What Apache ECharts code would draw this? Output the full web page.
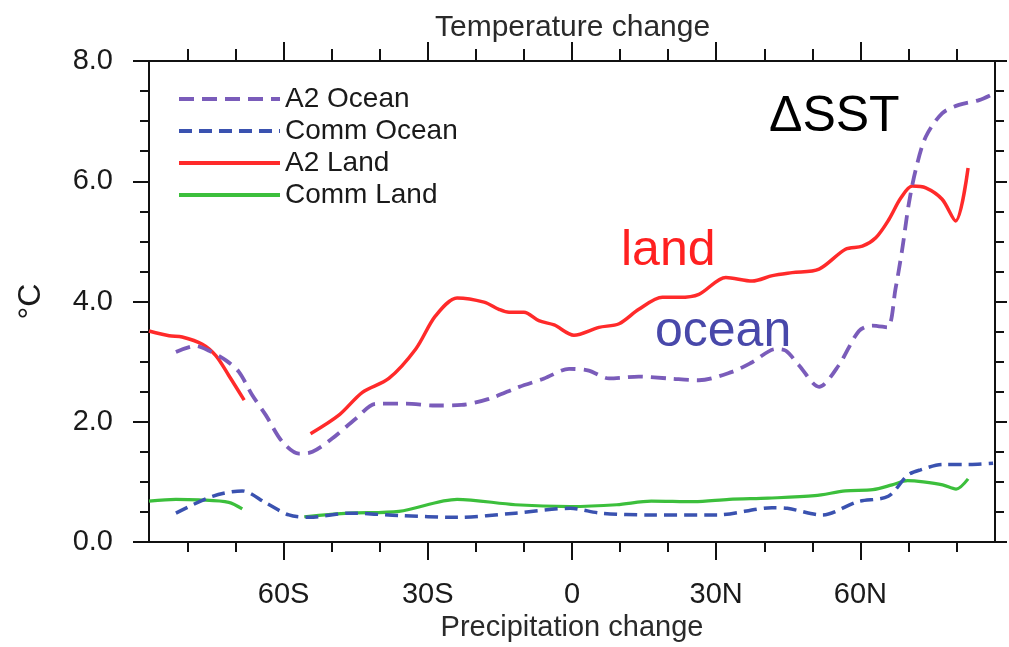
<!DOCTYPE html>
<html>
<head>
<meta charset="utf-8">
<script src="https://cdn.jsdelivr.net/npm/echarts@6/dist/echarts.min.js"></script>
<style>
html,body{margin:0;padding:0;background:#fff;}
#chart{width:1009px;height:647px;}
</style>
</head>
<body>
<div id="chart"></div>
<script>
// ---- Data (latitude in degrees, negative = south; values in °C) ----
const latA2Ocean = [-82.4, -78.3, -75.5, -72.0, -69.3, -66.5, -63.7, -60.3, -56.8, -54.0, -49.9, -45.0, -40.8, -34.6, -28.4, -23.0, -17.3, -11.0, -5.8, -0.6, 3.5, 7.7, 13.9, 20.2, 26.4, 33.3, 37.5, 42.4, 44.5, 47.2, 51.4, 55.5, 59.7, 62.5, 65.6, 67.3, 68.7, 70.1, 71.5, 73.6, 77.0, 80.5, 84.7, 87.8];
const valA2Ocean = [3.16, 3.26, 3.18, 3.02, 2.83, 2.44, 2.11, 1.67, 1.47, 1.50, 1.72, 2.05, 2.30, 2.30, 2.27, 2.28, 2.38, 2.58, 2.72, 2.88, 2.85, 2.72, 2.75, 2.72, 2.69, 2.83, 2.99, 3.21, 3.18, 2.94, 2.58, 2.94, 3.51, 3.60, 3.57, 4.21, 4.87, 5.64, 6.19, 6.74, 7.13, 7.27, 7.35, 7.46];

const latCommOcean = [-82.4, -74.8, -68.6, -63.7, -58.9, -54.7, -46.4, -36.0, -23.9, -11.8, -0.4, 6.0, 16.5, 30.2, 41.6, 44.8, 52.1, 59.4, 65.8, 69.8, 72.5, 77.1, 82.8, 87.6];
const valCommOcean = [0.48, 0.76, 0.85, 0.65, 0.45, 0.41, 0.48, 0.44, 0.41, 0.48, 0.56, 0.48, 0.45, 0.45, 0.57, 0.56, 0.45, 0.67, 0.76, 1.11, 1.20, 1.29, 1.29, 1.31];

const latA2Land = [-88.0, -83.8, -81.1, -76.9, -74.1, -71.4, -68.2, -61.0, -54.4, -48.5, -43.6, -38.1, -32.5, -28.4, -23.9, -18.3, -15.2, -13.1, -10.0, -6.9, -3.7, 0.4, 5.6, 9.8, 13.9, 18.8, 22.3, 26.4, 32.0, 37.5, 41.7, 45.8, 51.4, 56.9, 60.4, 63.2, 65.9, 68.4, 70.8, 73.6, 77.0, 79.8, 82.4];
const valA2Land = [3.51, 3.43, 3.41, 3.29, 3.10, 2.77, 2.36, null, 1.80, 2.11, 2.49, 2.72, 3.21, 3.76, 4.06, 3.99, 3.87, 3.82, 3.82, 3.68, 3.61, 3.44, 3.57, 3.63, 3.87, 4.07, 4.07, 4.12, 4.40, 4.34, 4.43, 4.48, 4.54, 4.87, 4.92, 5.06, 5.36, 5.72, 5.92, 5.89, 5.70, 5.34, 6.22];

const latCommLand = [-88.0, -82.4, -77.6, -71.4, -68.6, -62.0, -55.7, -46.4, -36.0, -23.9, -11.8, -0.4, 9.3, 16.5, 25.4, 32.7, 40.8, 50.5, 56.9, 62.6, 66.6, 69.8, 73.1, 77.1, 79.9, 82.4];
const valCommLand = [0.68, 0.71, 0.70, 0.66, 0.55, null, 0.42, 0.48, 0.51, 0.71, 0.62, 0.59, 0.62, 0.68, 0.67, 0.71, 0.73, 0.77, 0.85, 0.87, 0.95, 1.02, 1.00, 0.95, 0.88, 1.05];

const seriesNames = ['A2 Ocean', 'Comm Ocean', 'A2 Land', 'Comm Land'];
const xMajorTicks = [-60, -30, 0, 30, 60];
const xTickLabels = ['60S', '30S', '0', '30N', '60N'];
const xMinorTicks = [-80, -70, -50, -40, -20, -10, 10, 20, 40, 50, 70, 80];

// ---- Build ----
function pairs(lats, vals) { return lats.map((x, i) => [x, vals[i]]); }
const FONT = 'Liberation Sans, Arial, Helvetica, sans-serif';
const AX = '#111';

function xAxisDef(position, ticks, len, showLine, extra) {
  return Object.assign({
    type: 'value', position: position, min: -88, max: 88,
    axisLine: { show: showLine, onZero: false, lineStyle: { color: AX, width: 2 } },
    axisTick: { show: true, customValues: ticks, length: len, lineStyle: { color: AX, width: 2 } },
    axisLabel: { show: false },
    splitLine: { show: false }
  }, extra || {});
}

const chart = echarts.init(document.getElementById('chart'), null, { renderer: 'canvas' });
const option = {
  animation: false,
  backgroundColor: '#ffffff',
  title: {
    text: 'Temperature change', left: 435, top: 13, padding: 0,
    textStyle: { fontFamily: FONT, fontSize: 30, fontWeight: 'normal', color: '#2a2a2a' }
  },
  legend: {
    data: seriesNames, orient: 'vertical', left: 177, top: 85,
    itemWidth: 101, itemHeight: 14, itemGap: 4, padding: 0,
    itemStyle: { opacity: 0, color: 'rgba(0,0,0,0)', borderWidth: 0 },
    lineStyle: { width: 4 },
    textStyle: { fontFamily: FONT, fontSize: 28, color: '#1a1a1a', lineHeight: 28 }
  },
  grid: { left: 149, right: 14, top: 61, bottom: 103, containLabel: false },
  xAxis: [
    xAxisDef('bottom', xMajorTicks, 18, true, {
      axisLabel: {
        show: true, customValues: xMajorTicks, margin: 38,
        fontFamily: FONT, fontSize: 29, color: '#1a1a1a',
        formatter: v => xTickLabels[xMajorTicks.indexOf(v)]
      },
      name: 'Precipitation change', nameLocation: 'middle', nameGap: 71, nameMoveOverlap: false,
      nameTextStyle: { fontFamily: FONT, fontSize: 29, color: '#2a2a2a' }
    }),
    xAxisDef('bottom', xMinorTicks, 10, false),
    xAxisDef('top', xMajorTicks, 19, true),
    xAxisDef('top', xMinorTicks, 12, false)
  ],
  yAxis: [
    {
      type: 'value', position: 'left', min: 0, max: 8, interval: 2,
      axisLine: { show: true, onZero: false, lineStyle: { color: AX, width: 2 } },
      axisTick: { show: true, length: 16, lineStyle: { color: AX, width: 2 } },
      minorTick: { show: true, splitNumber: 4, length: 9, lineStyle: { color: AX, width: 2 } },
      axisLabel: { show: true, margin: 36, fontFamily: FONT, fontSize: 29, color: '#1a1a1a', formatter: v => v.toFixed(1) },
      splitLine: { show: false }, minorSplitLine: { show: false },
      name: '°C', nameLocation: 'middle', nameRotate: 90, nameGap: 102, nameMoveOverlap: false,
      nameTextStyle: { fontFamily: FONT, fontSize: 32, color: '#1a1a1a' }
    },
    {
      type: 'value', position: 'right', min: 0, max: 8, interval: 2,
      axisLine: { show: true, onZero: false, lineStyle: { color: AX, width: 2 } },
      axisTick: { show: true, length: 12, lineStyle: { color: AX, width: 2 } },
      minorTick: { show: true, splitNumber: 4, length: 9, lineStyle: { color: AX, width: 2 } },
      axisLabel: { show: false },
      splitLine: { show: false }, minorSplitLine: { show: false }
    }
  ],
  series: [
    {
      name: seriesNames[0], type: 'line', data: pairs(latA2Ocean, valA2Ocean),
      symbol: 'none', smooth: 0.3, connectNulls: false, z: 4,
      lineStyle: { color: '#7a5cba', width: 3.8, type: [15, 8] }, itemStyle: { color: '#7a5cba' }
    },
    {
      name: seriesNames[1], type: 'line', data: pairs(latCommOcean, valCommOcean),
      symbol: 'none', smooth: 0.3, connectNulls: false, z: 3,
      lineStyle: { color: '#3a52b0', width: 3.5, type: [13, 7] }, itemStyle: { color: '#3a52b0' }
    },
    {
      name: seriesNames[2], type: 'line', data: pairs(latA2Land, valA2Land),
      symbol: 'none', smooth: 0.3, connectNulls: false, z: 2,
      lineStyle: { color: '#ff2a2a', width: 3.5, type: 'solid' }, itemStyle: { color: '#ff2a2a' }
    },
    {
      name: seriesNames[3], type: 'line', data: pairs(latCommLand, valCommLand),
      symbol: 'none', smooth: 0.3, connectNulls: false, z: 2,
      lineStyle: { color: '#3cbf3c', width: 3.2, type: 'solid' }, itemStyle: { color: '#3cbf3c' }
    }
  ],
  graphic: [
    { type: 'text', left: 769, top: 92, style: { text: 'ΔSST', fontFamily: FONT, fontSize: 50, fill: '#000' } },
    { type: 'text', left: 621, top: 226, style: { text: 'land', fontFamily: FONT, fontSize: 50, fill: '#ff2020' } },
    { type: 'text', left: 655, top: 307, style: { text: 'ocean', fontFamily: FONT, fontSize: 50, fill: '#4848aa' } }
  ]
};
chart.setOption(option);
</script>
</body>
</html>
